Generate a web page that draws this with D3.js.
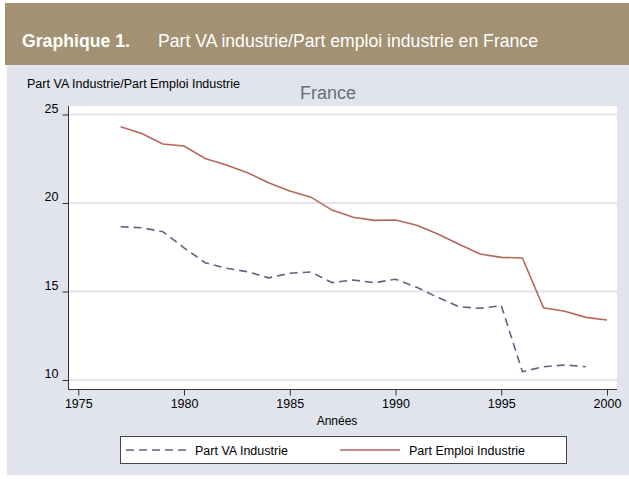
<html>
<script src="https://d3js.org/d3.v7.min.js"></script>
<style>
  body { margin: 0; background: white; }
  text { font-family: "Liberation Sans", Arial, sans-serif; }
</style>
<body>
<svg width="629" height="479"></svg>
<script>
const years = d3.range(1977, 2001);
const partEmploi = [24.31, 23.93, 23.33, 23.22, 22.52, 22.15, 21.71, 21.15, 20.68, 20.33,
  19.60, 19.19, 19.02, 19.04, 18.74, 18.25, 17.67, 17.12, 16.93, 16.89,
  14.08, 13.88, 13.54, 13.39];
const partVA = [18.66, 18.60, 18.38, 17.47, 16.63, 16.31, 16.12, 15.77, 16.03, 16.10,
  15.50, 15.65, 15.50, 15.69, 15.24, 14.67, 14.14, 14.05, 14.20, 10.47,
  10.75, 10.85, 10.75];
const yTicks = [10, 15, 20, 25];
const xTicks = [1975, 1980, 1985, 1990, 1995, 2000];

const svg = d3.select('svg');

// bandeau titre
svg.append('rect').attr('x', 5).attr('y', 3).attr('width', 624).attr('height', 62).attr('fill', '#a39173');
svg.append('text').attr('x', 22).attr('y', 47).attr('fill', 'white')
  .style('font-size', '19px').style('font-weight', 'bold')
  .attr('textLength', 108).attr('lengthAdjust', 'spacingAndGlyphs')
  .text('Graphique 1.');
svg.append('text').attr('x', 158).attr('y', 47).attr('fill', 'white')
  .style('font-size', '19px')
  .attr('textLength', 380).attr('lengthAdjust', 'spacingAndGlyphs')
  .text('Part VA industrie/Part emploi industrie en France');

// fond gris
svg.append('rect').attr('x', 7).attr('y', 65).attr('width', 622).attr('height', 410).attr('fill', '#e1e4ec');

const x = d3.scaleLinear().domain([1975, 2000]).range([78.3, 607]);
const y = d3.scaleLinear().domain([10, 25]).range([380, 114.5]);

const pLeft = 68, pRight = 617, pTop = 106, pBottom = 389;

svg.append('rect').attr('x', pLeft).attr('y', pTop).attr('width', pRight - pLeft).attr('height', pBottom - pTop).attr('fill', 'white');

// grille
svg.append('g').selectAll('line').data(yTicks).enter().append('line')
  .attr('x1', pLeft).attr('x2', pRight)
  .attr('y1', d => y(d)).attr('y2', d => y(d))
  .attr('stroke', '#e1e4ec').attr('stroke-width', 2);

// axes
const yAxis = svg.append('g').attr('transform', 'translate(' + (pLeft + 0.5) + ',0)')
  .call(d3.axisLeft(y).tickValues(yTicks).tickSize(6).tickPadding(4));
const xAxis = svg.append('g').attr('transform', 'translate(0,' + (pBottom + 0.5) + ')')
  .call(d3.axisBottom(x).tickValues(xTicks).tickFormat(d3.format('d')).tickSize(6).tickPadding(4));
[yAxis, xAxis].forEach(g => {
  g.select('.domain').remove();
  g.selectAll('line').attr('stroke', '#333');
  g.selectAll('text').attr('fill', 'black').style('font-size', '12.5px').style('font-family', '"Liberation Sans", Arial, sans-serif');
});
yAxis.selectAll('text').attr('dy', '-0.2em');
svg.append('line').attr('x1', pLeft + 0.5).attr('x2', pLeft + 0.5).attr('y1', pTop).attr('y2', pBottom + 1).attr('stroke', '#333');
svg.append('line').attr('x1', pLeft).attr('x2', pRight).attr('y1', pBottom + 0.5).attr('y2', pBottom + 0.5).attr('stroke', '#333');

// titres
svg.append('text').attr('x', 27).attr('y', 88).style('font-size', '12px').attr('fill', 'black')
  .attr('textLength', 213).attr('lengthAdjust', 'spacingAndGlyphs')
  .text('Part VA Industrie/Part Emploi Industrie');
svg.append('text').attr('x', 328).attr('y', 99).attr('text-anchor', 'middle').style('font-size', '18px').attr('fill', '#6a6e7a')
  .text('France');
svg.append('text').attr('x', 337).attr('y', 425).attr('text-anchor', 'middle').style('font-size', '12px').attr('fill', 'black')
  .text('Années');

// courbes
const line = d3.line().x((d, i) => x(years[i])).y(d => y(d));
svg.append('path').datum(partEmploi).attr('d', line).attr('fill', 'none')
  .attr('stroke', '#b5675a').attr('stroke-width', 1.6);
svg.append('path').datum(partVA).attr('d', line).attr('fill', 'none')
  .attr('stroke', '#5d6480').attr('stroke-width', 1.6).attr('stroke-dasharray', '8,5');

// légende
const lg = svg.append('g');
lg.append('rect').attr('x', 120.5).attr('y', 436.5).attr('width', 446).attr('height', 27)
  .attr('fill', 'white').attr('stroke', '#444');
lg.append('line').attr('x1', 126).attr('x2', 187).attr('y1', 450).attr('y2', 450)
  .attr('stroke', '#5d6480').attr('stroke-width', 1.6).attr('stroke-dasharray', '8,5');
lg.append('text').attr('x', 195).attr('y', 454.5).style('font-size', '12.5px').text('Part VA Industrie');
lg.append('line').attr('x1', 340).attr('x2', 400).attr('y1', 450).attr('y2', 450)
  .attr('stroke', '#b5675a').attr('stroke-width', 1.6);
lg.append('text').attr('x', 409).attr('y', 454.5).style('font-size', '12.5px').text('Part Emploi Industrie');
</script>
</body>
</html>
